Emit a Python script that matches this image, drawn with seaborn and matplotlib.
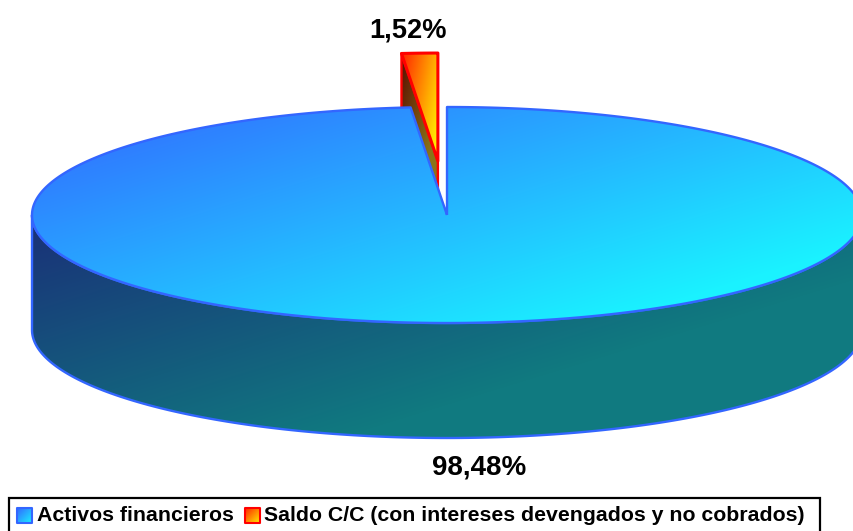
import numpy as np
import seaborn as sns
import matplotlib
matplotlib.use('Agg')
import matplotlib.pyplot as plt
from matplotlib.patches import Polygon, Rectangle

# datos del grafico
categorias = ['Activos financieros', 'Saldo C/C (con intereses devengados y no cobrados)']
porcentajes = [98.48, 1.52]
etiquetas = ['98,48%', '1,52%']

sns.set_theme(style='white')
plt.rcParams['font.family'] = ['Liberation Sans', 'DejaVu Sans']

W, H = 854, 531
cx, cy = 447, 215
rx, ry = 415, 108
prof = 115
explode = 0.5
hueco = 0.92  # la perspectiva comprime un poco el angulo de la porcion pequena

fig = plt.figure(figsize=(W / 100, H / 100), dpi=100)
ax = fig.add_axes([0, 0, 1, 1])
ax.set_xlim(0, W)
ax.set_ylim(H, 0)
ax.axis('off')


def elipse(theta, dx=0, dy=0):
    theta = np.radians(theta)
    return np.column_stack([cx + dx + rx * np.sin(theta), cy + dy - ry * np.cos(theta)])


def degradado(pts, colores, vec, edge=None, lw=1.7, z=1):
    # rellena el poligono con un degradado lineal
    pts = np.asarray(pts)
    x0, y0 = pts.min(axis=0)
    x1, y1 = pts.max(axis=0)
    xx, yy = np.meshgrid(np.arange(W) + 0.5, np.arange(H) + 0.5)
    u = (xx - x0) / max(x1 - x0, 1) * vec[0] + (yy - y0) / max(y1 - y0, 1) * vec[1]
    cmap = sns.blend_palette(colores, as_cmap=True)
    im = ax.imshow(np.clip(u, 0, 1), cmap=cmap, vmin=0, vmax=1, extent=(0, W, H, 0), aspect='auto', zorder=z,
                   interpolation='bilinear')
    pol = Polygon(pts, closed=True, fc='none', ec='none', zorder=z)
    ax.add_patch(pol)
    im.set_clip_path(pol)
    if edge is not None:
        ax.add_patch(Polygon(pts, closed=True, fc='none', ec=edge, lw=lw, joinstyle='round', zorder=z + 0.1))


ang_rojo = 360 * porcentajes[1] / 100 * hueco
ang_azul = 360 - ang_rojo
medio = ang_azul + ang_rojo / 2
dx = explode * rx * np.sin(np.radians(medio))
dy = -explode * ry * np.cos(np.radians(medio))

# porcion separada (roja), se pinta primero porque queda detras
arco_r = elipse(np.linspace(ang_azul, 360, 20), dx, dy)
apex = np.array([[cx + dx, cy + dy]])
cara = np.vstack([arco_r[0], arco_r[0] + [0, prof], apex + [0, prof], apex])
degradado(cara, ['#5a0e00', '#8a7418'], (0.7, 1.0), edge='#ff0000', z=1)
degradado(np.vstack([apex, arco_r]), ['#ff2200', '#ffee00'], (0.7, 0.4), edge='#ff0000', lw=2.2, z=2)

# lateral de la porcion azul
frente = elipse(np.linspace(90, 270, 181))
lateral = np.vstack([frente, (frente + [0, prof])[::-1]])
degradado(lateral, ['#1a2f78', '#107a80'], (0.8, 0.7), edge='#3366ff', z=3)

# cara superior azul
arco = elipse(np.linspace(0, ang_azul, 361))
cara_sup = np.vstack([[[cx, cy]], arco])
degradado(cara_sup, ['#3366ff', '#1af2ff'], (0.65, 0.55), edge='#3366ff', z=4)

# etiquetas de datos
ax.text(479, 467.5, etiquetas[0], ha='center', va='center', fontsize=20, fontweight='bold', color='black')
ax.text(408, 31, etiquetas[1], ha='center', va='center', fontsize=19.6, fontweight='bold', color='black')

# leyenda
ax.add_patch(Rectangle((9, 498), 811, 40, fc='white', ec='black', lw=1.6, zorder=5))
for i, (x_s, x_t, cols) in enumerate([(17, 37, ['#3366ff', '#1af2ff']), (245, 264, ['#ff2200', '#ffee00'])]):
    sw = [[x_s, 508], [x_s + 15, 508], [x_s + 15, 523], [x_s, 523]]
    degradado(sw, cols, (0.5, 0.5), edge='#3366ff' if i == 0 else '#ff0000', lw=1.5, z=6)
    ax.text(x_t, 515.5, categorias[i], ha='left', va='center', fontsize=15.3, fontweight='bold', color='black', zorder=7)

fig.savefig('out.png', dpi=100)
